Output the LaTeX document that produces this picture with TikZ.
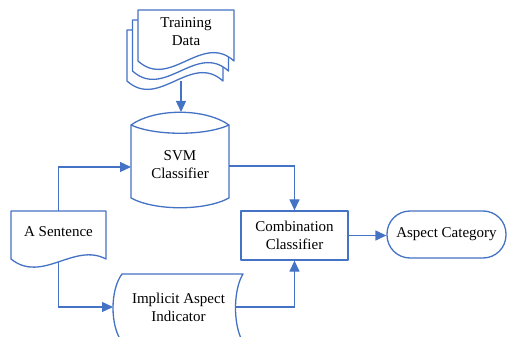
\documentclass[tikz,border=0pt]{standalone}
\usepackage{fontspec}
\setmainfont{Liberation Serif}
\newfontfamily\flowserif{Liberation Serif}
\usetikzlibrary{arrows.meta}
\definecolor{flowblue}{RGB}{68,114,196}
\begin{document}
\begin{tikzpicture}[x=1pt,y=-1pt,
  outline/.style={draw=flowblue, line width=1.3pt, fill=white, line join=round},
  link/.style={draw=flowblue, line width=1.3pt, -{Triangle[length=11pt,width=10pt]}},
  txt/.style={font=\flowserif\fontsize{15}{18}\selectfont, align=center, inner sep=0pt, text=black}]
\useasboundingbox (0,0) rectangle (507,337);
\clip (0,0) rectangle (507,337);

% stacked documents (back to front)
\foreach \k in {2,1,0} {
  \path[outline, shift={(138-5.5*\k, 10+10*\k)}]
    (0,0) -- (96,0) -- (96,51) .. controls (64,22) and (32,80) .. (0,51) -- cycle;
}
\node[txt] (data) at (186,32) {Training\\Data};
\coordinate (data-out) at (181,81);

% SVM cylinder
\path[outline] (131,125) -- (131,198) .. controls (155,211) and (205,211) .. (229,198)
  -- (229,125) .. controls (205,108) and (155,108) .. cycle;
\draw[outline, fill=none] (131,125) .. controls (155,136) and (205,136) .. (229,125);
\node[txt] (svm) at (180,165) {SVM\\Classifier};
\coordinate (svm-top) at (181,112);
\coordinate (svm-in) at (131,167);
\coordinate (svm-out) at (229,166);

% sentence document
\path[outline] (11,211) -- (106,211) -- (106,259) .. controls (74,242) and (42,284) .. (11,259) -- cycle;
\node[txt] (sent) at (58.5,232) {A Sentence};
\coordinate (sent-top) at (58.5,211);
\coordinate (sent-bot) at (58.5,262);

% stored-data shape
\path[outline] (122,274) -- (243,274) .. controls (233,290) and (233,326) .. (243,342)
  -- (122,342) .. controls (110,326) and (110,290) .. cycle;
\node[txt] (impl) at (178.5,307) {Implicit Aspect\\Indicator};
\coordinate (impl-in) at (113,307);
\coordinate (impl-out) at (236,307);

% combination and result
\node[outline, txt, minimum width=107pt, minimum height=49pt] (comb) at (294.5,235.5) {Combination\\Classifier};
\node[outline, txt, rounded corners=23pt, minimum width=119pt, minimum height=47pt] (cat) at (446.5,234.5) {Aspect Category};

% connectors
\draw[link] (data-out) -- (svm-top);
\draw[link] (sent-top) |- (svm-in);
\draw[link] (sent-bot) |- (impl-in);
\draw[link] (svm-out) -| (comb.north);
\draw[link] (impl-out) -| (comb.south);
\draw[link] (comb.east) -- (comb.east -| cat.west);
\end{tikzpicture}
\end{document}
